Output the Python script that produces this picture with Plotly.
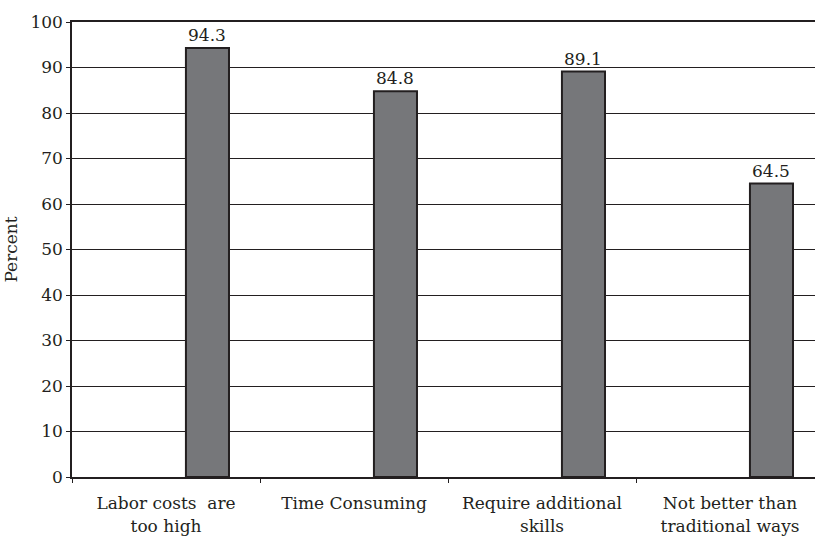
import plotly.graph_objects as go

# Reasons given for not adopting the practice
categories = [
    "Labor costs  are<br>too high",
    "Time Consuming",
    "Require additional<br>skills",
    "Not better than<br>traditional ways",
]
percent = [94.3, 84.8, 89.1, 64.5]
y_ticks = [0, 10, 20, 30, 40, 50, 60, 70, 80, 90, 100]

INK = "#231f20"
FONT = "DejaVu Serif"

fig = go.Figure(
    go.Bar(
        x=categories,
        y=percent,
        offset=0.106,
        width=0.229,
        marker=dict(color="#76777a", line=dict(color=INK, width=2)),
        cliponaxis=False,
        hoverinfo="x+y",
    )
)

# value labels just above each bar
for i, v in enumerate(percent):
    fig.add_annotation(
        x=i + 0.2205,
        y=v,
        text=f"{v:.1f}",
        showarrow=False,
        yanchor="bottom",
        yshift=1,
        font=dict(family=FONT, size=17, color=INK),
    )

fig.update_layout(
    width=815,
    height=536,
    margin=dict(l=72, r=0, t=22, b=59),
    paper_bgcolor="white",
    plot_bgcolor="white",
    showlegend=False,
    font=dict(family=FONT, size=17, color=INK),
)

fig.update_xaxes(
    type="category",
    range=[-0.5, 3.452],
    tickson="boundaries",
    ticks="outside",
    ticklen=4,
    tickwidth=1,
    tickcolor=INK,
    ticklabelstandoff=10,
    showline=True,
    linecolor=INK,
    linewidth=2,
    mirror=True,
    showgrid=False,
    tickfont=dict(family=FONT, size=17, color=INK),
)

fig.update_yaxes(
    range=[0, 100],
    tickvals=y_ticks,
    ticks="outside",
    ticklen=4,
    tickcolor=INK,
    showline=True,
    linecolor=INK,
    linewidth=1.5,
    showgrid=True,
    gridcolor=INK,
    gridwidth=1.4,
    zeroline=False,
    title=dict(text="Percent", font=dict(family=FONT, size=17, color=INK), standoff=8),
    tickfont=dict(family=FONT, size=17, color=INK),
)

fig.write_html("out.html")
